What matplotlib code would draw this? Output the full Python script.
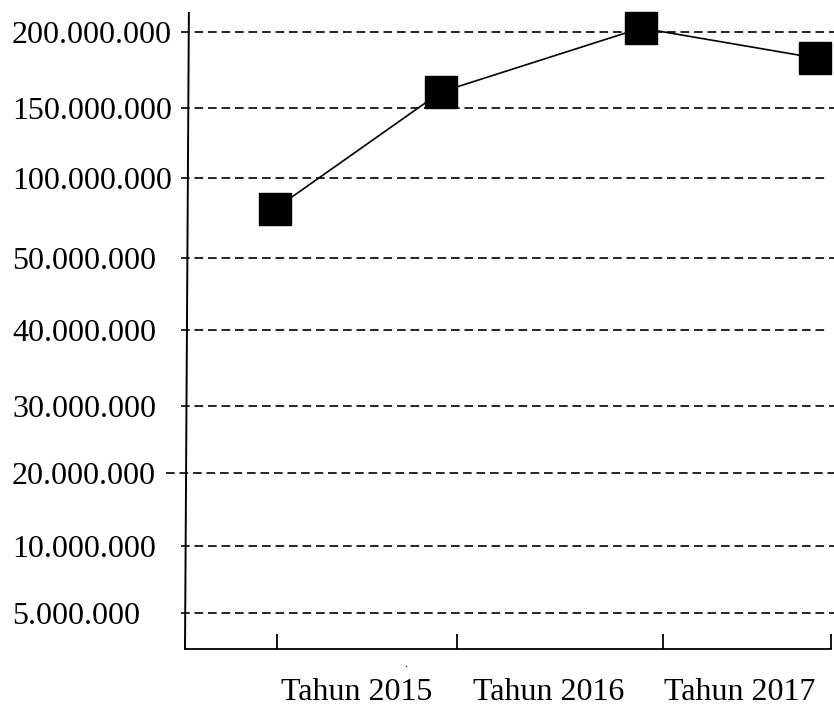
import numpy as np
import matplotlib
matplotlib.use('Agg')
import matplotlib.pyplot as plt
from matplotlib.lines import Line2D

plt.rcParams['font.family'] = ['Liberation Serif', 'DejaVu Serif']

# data
years = ['Tahun 2014', 'Tahun 2015', 'Tahun 2016', 'Tahun 2017']
values = [80_600_000, 160_500_000, 202_600_000, 183_000_000]
x_pos = [0.139, 0.396, 0.706, 0.975]

# the y axis is not linear: gridline values and where they sit
grid_vals = [5e6, 10e6, 20e6, 30e6, 40e6, 50e6, 100e6, 150e6, 200e6]
grid_labels = ['5.000.000', '10.000.000', '20.000.000', '30.000.000', '40.000.000',
               '50.000.000', '100.000.000', '150.000.000', '200.000.000']
scale_vals = [0] + grid_vals + [250e6]
scale_pos = [0, 36, 103, 176, 243, 319, 391, 471, 541, 617, 693]

tick_x = [0.142, 0.421, 0.740, 1.0]
label_x = [0.266, 0.563, 0.859]
label_txt = ['Tahun 2015', 'Tahun 2016', 'Tahun 2017']


def fwd(v):
    return np.interp(v, scale_vals, scale_pos)


def inv(p):
    return np.interp(p, scale_pos, scale_vals)


fig = plt.figure(figsize=(8.34, 7.12), dpi=100)
ax = fig.add_axes([185/834, 1-649/712, 646/834, 636/712])
ax.set_yscale('function', functions=(fwd, inv))
ax.set_ylim(0, 212.5e6)
ax.set_xlim(0, 1)

# dashed gridlines, a bit wider than the plot on the left
for v in grid_vals:
    x0 = -0.03 if v == 20e6 else -0.006
    x1 = 0.99 if v in (100e6, 40e6) else 1.01
    ax.plot([x0, x1], [v, v], color='black', lw=1.2, dashes=(5.2, 2.9), clip_on=False)

ax.plot(x_pos, values, color='black', lw=1.2, marker='s', ms=23.5,
        mfc='black', mec='black', clip_on=False, zorder=3)

for s in ['top', 'right', 'left']:
    ax.spines[s].set_visible(False)
ax.spines['bottom'].set_linewidth(1.3)

# slightly tilted y axis line
ax.add_line(Line2D([0.0, 0.006], [0, 1], transform=ax.transAxes, color='black',
                   lw=1.4, clip_on=False))

ax.set_yticks(grid_vals, grid_labels)
ax.tick_params(axis='y', length=0, pad=124.6, labelsize=23)
for lbl in ax.get_yticklabels():
    lbl.set_ha('left')
ax.yaxis.set_minor_locator(plt.NullLocator())

ax.set_xticks(tick_x, ['', '', '', ''])
ax.tick_params(axis='x', which='major', direction='in', length=11, width=1.3)
ax.set_xticks(label_x, label_txt, minor=True)
ax.tick_params(axis='x', which='minor', length=0, pad=21, labelsize=23)

ax.text(0.341, -0.028, '.', transform=ax.transAxes, fontsize=8, ha='center')

fig.savefig('out.png', dpi=100)
